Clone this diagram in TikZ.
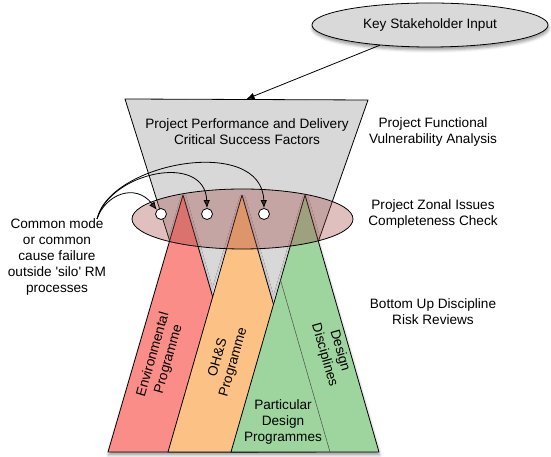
\documentclass[tikz,border=0pt]{standalone}
\usepackage{fontspec}
\setmainfont{Liberation Sans}
\usetikzlibrary{arrows.meta,shapes.geometric,shadows.blur}

\definecolor{keygray}{RGB}{217,217,217}
\definecolor{funnelgray}{RGB}{216,216,216}
\definecolor{zonepink}{RGB}{160,60,60}
\definecolor{envred}{RGB}{250,141,135}
\definecolor{ohsorange}{RGB}{252,193,132}
\definecolor{designgreen}{RGB}{158,212,158}

\tikzset{
  txt/.style={align=center, font=\fontsize{13.6}{16}\selectfont},
  prog/.style={draw, line join=round},
  hole/.style={circle, draw, fill=white, inner sep=0pt, minimum size=11pt},
  dropsh/.style={blur shadow={shadow xshift=0.5pt, shadow yshift=-3pt, shadow blur radius=3pt}}
}

\begin{document}
\begin{tikzpicture}[x=1pt,y=1pt,line width=0.8pt,>={Latex[length=8pt,width=6.5pt]}]
        \useasboundingbox (0,0) rectangle (551,457);
        % input at the top
        \node[txt, ellipse, draw, fill=keygray, dropsh, minimum width=236pt, minimum height=44pt] (stake) at (430,432) {Key Stakeholder Input};
        % funnel, its lower part is hidden by the programmes
        \draw[prog, fill=funnelgray] (125,358) -- (368,357) -- (245,7) -- (235.5,7) -- cycle;
        \coordinate (funneltop) at (246.5,358);
        \draw[->] (stake) -- (funneltop);
        % shadow under the three programmes
        \path[fill=white, dropsh] (108,5) -- (183,262) -- (212,162) -- (242,262) -- (273,154)
          -- (305,262) -- (379,5) -- cycle;
        \draw[prog, fill=envred] (108,5) -- (183,262) -- (258,5) -- cycle;
        \draw[prog, fill=ohsorange] (168,5) -- (242,262) -- (316,5) -- cycle;
        \draw[prog, fill=designgreen] (231,5) -- (305,262) -- (379,5) -- cycle;
        \draw[line width=0.5pt, black!70] (280.5,177) -- (330,5);
        % zonal check across the tops
        \node[ellipse, draw, fill=zonepink, fill opacity=0.33, minimum width=221pt, minimum height=60pt] (zone) at (242.5,238) {};
        \node[hole] (c1) at (161,243) {};
        \node[hole] (c2) at (207,243) {};
        \node[hole] (c3) at (264,243) {};
        \coordinate (src) at (97,238);
        \draw[->] (src) .. controls (105,262) and (135,275) .. (c1.135);
        \draw[->] (src) .. controls (110,285) and (205,305) .. (c2.north);
        \draw[->] (src) .. controls (110,295) and (262,322) .. (c3.north);
        % labels
        \node[txt] (csf) at (247,325) {Project Performance and Delivery\\Critical Success Factors};
        \node[txt] (pfva) at (433,325) {Project Functional\\Vulnerability Analysis};
        \node[txt] (zic) at (433,243) {Project Zonal Issues\\Completeness Check};
        \node[txt] (bud) at (433,145.5) {Bottom Up Discipline\\Risk Reviews};
        \node[txt] (ccf) at (57,200) {Common mode\\or common\\cause failure\\outside \textquotesingle silo\textquotesingle{} RM\\processes};
        \node[txt, rotate=74] (env) at (161,100) {Environmental\\Programme};
        \node[txt, rotate=74] (ohs) at (226,97) {OH\&S\\Programme};
        \node[txt, rotate=-74] (disc) at (332,104) {Design\\Disciplines};
        \node[txt] (pdp) at (283,35) {Particular\\Design\\Programmes};
      \end{tikzpicture}
\end{document}
